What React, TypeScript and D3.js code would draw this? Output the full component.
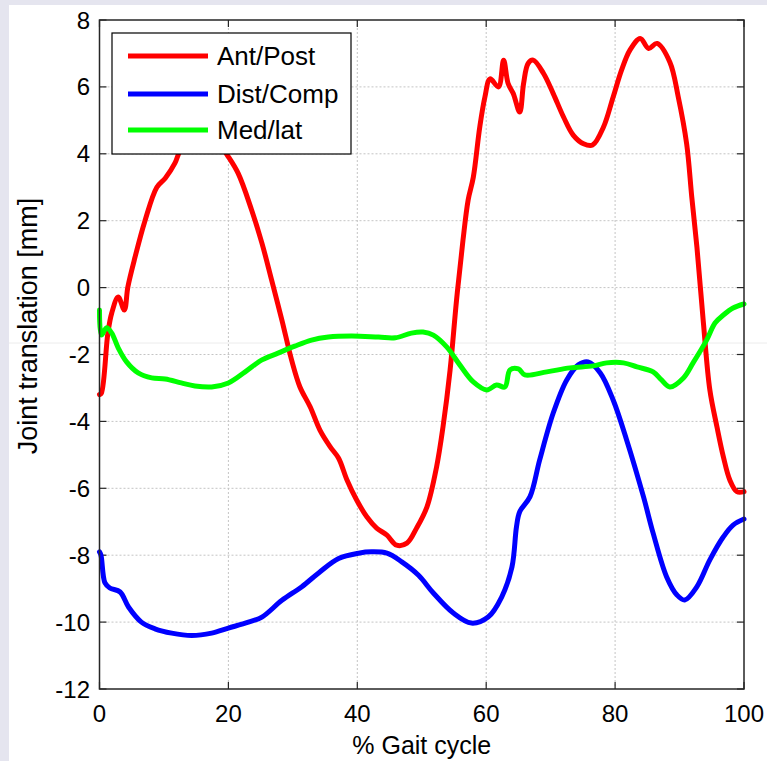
import React from "react";
import * as d3 from "d3";

const xTicks = [0, 20, 40, 60, 80, 100];
const yTicks = [-12, -10, -8, -6, -4, -2, 0, 2, 4, 6, 8];
const seriesNames = ["Ant/Post", "Dist/Comp", "Med/lat"];
const seriesColors = ["#ff0000", "#0000ff", "#00ff00"];
const xLabel = "% Gait cycle";
const yLabel = "Joint translation [mm]";

const apX = [0, 0.3, 1.3, 1.9, 2.9, 3.85, 4.4, 5.5, 7.06, 8.9, 10.2, 11.7, 12.5, 14, 16, 18, 19.7, 21.5, 23.6, 25.2, 26.7, 28.3, 29.8, 31.1, 32.7, 34.2, 35.8, 37.1, 38.4, 39.9, 41.5, 43.0, 44.6, 46.1, 47.7, 49.2, 50.8, 52.3, 53.3, 54.4, 55.4, 56.4, 57.2, 58.0, 59.0, 59.8, 60.6, 61.9, 62.7, 63.4, 64.2, 65.2, 65.8, 66.5, 67.3, 68.9, 70.4, 72.0, 73.5, 75.1, 76.5, 78.2, 79.7, 81.0, 82.3, 83.9, 85.2, 86.5, 88.5, 89.8, 91.1, 91.9, 92.7, 93.7, 94.7, 95.8, 96.8, 97.8, 98.9, 100];
const apY = [-3.2, -3.15, -1.36, -0.76, -0.28, -0.67, 0.02, 0.9, 2.0, 3.0, 3.27, 3.72, 4.1, 4.5, 4.7, 4.5, 4.0, 3.42, 2.32, 1.33, 0.23, -0.97, -2.16, -2.97, -3.57, -4.26, -4.76, -5.1, -5.75, -6.35, -6.86, -7.19, -7.4, -7.7, -7.64, -7.19, -6.56, -5.36, -4.16, -2.46, -0.37, 1.42, 2.62, 3.3, 4.8, 5.7, 6.24, 6.0, 6.8, 6.1, 5.8, 5.25, 6.1, 6.7, 6.8, 6.4, 5.8, 5.1, 4.56, 4.3, 4.26, 4.8, 5.7, 6.5, 7.1, 7.45, 7.15, 7.3, 6.74, 5.7, 4.3, 2.7, 1.2, -1.05, -3.06, -4.16, -5.06, -5.75, -6.1, -6.1];

const dcX = [0, 0.23, 0.85, 1.6, 3.2, 4.5, 6.5, 8.6, 11.2, 14.3, 17.4, 20.0, 23.1, 25.2, 28.3, 31.4, 34.0, 37.1, 40.2, 42.2, 44.6, 46.9, 49.5, 51.8, 54.9, 57.7, 60.3, 62.4, 64.0, 64.7, 65.2, 66.8, 68.3, 70.4, 72.5, 74.3, 75.8, 77.7, 79.7, 81.8, 84.4, 85.9, 88.0, 89.6, 90.8, 92.7, 94.7, 96.8, 98.3, 100];
const dcY = [-7.9, -8.0, -8.83, -8.98, -9.1, -9.55, -10.0, -10.2, -10.33, -10.4, -10.33, -10.18, -10.0, -9.85, -9.35, -8.94, -8.53, -8.1, -7.94, -7.9, -7.94, -8.2, -8.6, -9.13, -9.73, -10.03, -9.85, -9.25, -8.35, -7.15, -6.7, -6.25, -5.15, -3.75, -2.76, -2.31, -2.22, -2.55, -3.36, -4.56, -6.25, -7.34, -8.65, -9.19, -9.34, -8.94, -8.14, -7.45, -7.1, -6.92];

const mlX = [0, 0.3, 1.1, 1.9, 2.9, 4.2, 6.0, 8.1, 10.2, 12.7, 14.8, 17.4, 20.0, 22.6, 25.2, 27.7, 30.3, 32.9, 35.5, 39.1, 43.3, 45.9, 48.4, 50.2, 51.8, 53.9, 55.9, 58.0, 60.1, 61.6, 62.9, 63.7, 65.0, 66.0, 69.4, 73.0, 76.6, 78.7, 81.3, 83.4, 85.9, 87.2, 88.5, 90.6, 92.1, 94.2, 95.5, 96.8, 98.3, 100];
const mlY = [-0.67, -1.42, -1.2, -1.36, -1.8, -2.22, -2.55, -2.7, -2.73, -2.85, -2.94, -2.97, -2.85, -2.52, -2.16, -1.96, -1.75, -1.57, -1.48, -1.45, -1.48, -1.5, -1.36, -1.33, -1.42, -1.78, -2.31, -2.82, -3.06, -2.91, -2.97, -2.46, -2.43, -2.61, -2.52, -2.4, -2.34, -2.25, -2.25, -2.37, -2.52, -2.76, -2.97, -2.7, -2.25, -1.57, -1.06, -0.82, -0.61, -0.49];

const W = 767;
const H = 761;
const FONT = "'Liberation Sans', Arial, Helvetica, sans-serif";

export default function App() {
  const left = 99.5;
  const right = 744;
  const top = 20;
  const bottom = 689;
  const x = d3.scaleLinear().domain([0, 100]).range([left, right]);
  const y = d3.scaleLinear().domain([-12, 8]).range([bottom, top]);
  const line = d3
    .line<[number, number]>()
    .x((d) => x(d[0]))
    .y((d) => y(d[1]))
    .curve(d3.curveCatmullRom.alpha(0.5));

  const series = [
    apX.map((v, i) => [v, apY[i]] as [number, number]),
    dcX.map((v, i) => [v, dcY[i]] as [number, number]),
    mlX.map((v, i) => [v, mlY[i]] as [number, number]),
  ];

  const tickLen = 7;
  const legX = 112;
  const legY = 33;
  const legW = 239;
  const legH = 121;
  const legRows = [56, 94, 130];

  return (
    <svg
      width={W}
      height={H}
      style={{ position: "absolute", left: 0, top: 0 }}
      fontFamily={FONT}
    >
      <rect x={0} y={0} width={W} height={H} fill="#e5e5ef" />
      <rect x={9} y={5} width={W - 9} height={H - 5} fill="#ffffff" />
      <line x1={9} x2={W} y1={343} y2={343} stroke="#ececec" strokeWidth={1} />

      {/* grid */}
      {xTicks
        .filter((t) => t > 0 && t < 100)
        .map((t) => (
          <line
            key={"gx" + t}
            x1={x(t)}
            x2={x(t)}
            y1={top}
            y2={bottom}
            stroke="#c4c4c4"
            strokeWidth={1}
            strokeDasharray="2,2"
          />
        ))}
      {yTicks
        .filter((t) => t > -12 && t < 8)
        .map((t) => (
          <line
            key={"gy" + t}
            x1={left}
            x2={right}
            y1={y(t)}
            y2={y(t)}
            stroke="#c4c4c4"
            strokeWidth={1}
            strokeDasharray="2,2"
          />
        ))}

      {/* ticks */}
      {xTicks.map((t) => (
        <g key={"tx" + t}>
          <line x1={x(t)} x2={x(t)} y1={bottom} y2={bottom - tickLen} stroke="#262626" strokeWidth={1.2} />
          <line x1={x(t)} x2={x(t)} y1={top} y2={top + tickLen} stroke="#262626" strokeWidth={1.2} />
          <text x={x(t)} y={722} fontSize={24} textAnchor="middle" fill="#000">
            {t}
          </text>
        </g>
      ))}
      {yTicks.map((t) => (
        <g key={"ty" + t}>
          <line x1={left} x2={left + tickLen} y1={y(t)} y2={y(t)} stroke="#262626" strokeWidth={1.2} />
          <line x1={right} x2={right - tickLen} y1={y(t)} y2={y(t)} stroke="#262626" strokeWidth={1.2} />
          <text x={90} y={y(t) + 8.5} fontSize={24} textAnchor="end" fill="#000">
            {t}
          </text>
        </g>
      ))}

      {/* series */}
      {series.map((s, i) => (
        <path
          key={"s" + i}
          d={line(s) || ""}
          fill="none"
          stroke={seriesColors[i]}
          strokeWidth={5}
          strokeLinejoin="round"
          strokeLinecap="round"
        />
      ))}

      {/* frame */}
      <rect x={left} y={top} width={right - left} height={bottom - top} fill="none" stroke="#262626" strokeWidth={1.5} />

      {/* legend */}
      <rect x={legX} y={legY} width={legW} height={legH} fill="#ffffff" stroke="#000" strokeWidth={1.2} />
      {seriesNames.map((n, i) => (
        <g key={"l" + i}>
          <line x1={128} x2={208} y1={legRows[i]} y2={legRows[i]} stroke={seriesColors[i]} strokeWidth={5} />
          <text x={217} y={legRows[i] + 9} fontSize={26} fill="#000">
            {n}
          </text>
        </g>
      ))}

      {/* axis labels */}
      <text x={(left + right) / 2} y={754} fontSize={25} textAnchor="middle" fill="#000">
        {xLabel}
      </text>
      <text
        transform={`translate(37, 326) rotate(-90)`}
        fontSize={27}
        textAnchor="middle"
        fill="#000"
      >
        {yLabel}
      </text>
    </svg>
  );
}
